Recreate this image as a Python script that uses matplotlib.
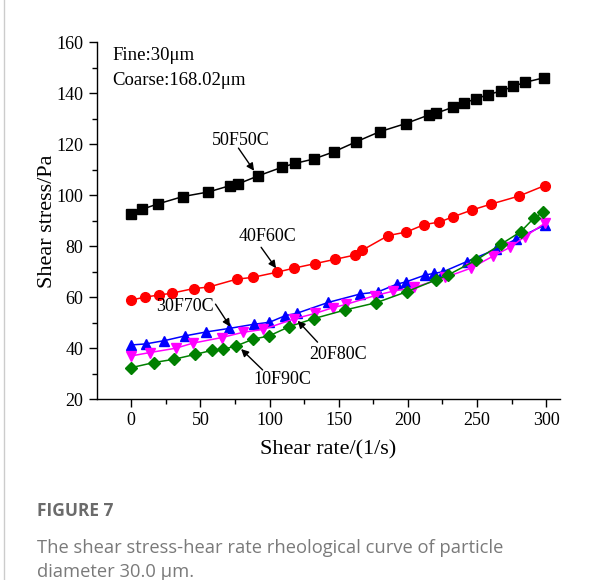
import matplotlib
matplotlib.use("Agg")
import matplotlib.pyplot as plt
from matplotlib.lines import Line2D

# ---------------- DATA ---------------- #

x_50f50c = [0, 7.7, 19.2, 37.3, 55.8, 71.5, 77, 91.7, 109, 118.4, 131.8, 146.3, 162.7,
            179.5, 198.3, 215.2, 220.6, 232.9, 240.9, 249.3, 258, 267.6, 276.2, 284.7, 298.6]
y_50f50c = [92.5, 94.5, 96.6, 99.5, 101.3, 103.8, 104.4, 107.6, 111.0, 112.5, 114.2, 117.0, 121.0,
            124.9, 128.1, 131.5, 132.2, 134.6, 136.3, 137.8, 139.5, 140.9, 142.7, 144.3, 146.1]

x_40f60c = [0, 10.1, 20.4, 29.3, 45, 56, 76.2, 87.8, 105.1, 117.4, 132.9, 147.5, 162, 166.8,
            185.8, 199, 211.8, 222.8, 232.9, 246.2, 259.9, 280.4, 298.9]
y_40f60c = [58.9, 60.1, 60.9, 61.6, 63.4, 64.0, 67.1, 67.8, 69.8, 71.4, 73.2, 74.9, 76.6, 78.4,
            84.2, 85.6, 88.5, 89.5, 91.6, 94.2, 96.5, 99.7, 103.8]

x_30f70c = [0, 10.3, 24, 39.2, 54.2, 71, 88.5, 99.9, 111.4, 119.6, 142.5, 165.6, 178.3,
            192.3, 198.5, 212.4, 219.2, 225.5, 242.6, 264, 278, 299.1]
y_30f70c = [41.3, 41.7, 43.0, 44.9, 46.4, 47.8, 49.4, 50.2, 52.8, 53.7, 58.0, 61.3, 62.1,
            65.2, 66.0, 68.7, 69.4, 70.0, 74.0, 78.9, 82.7, 88.4]

x_20f80c = [0, 13.2, 32, 44.5, 65.4, 81.1, 95.5, 117.7, 133.1, 145.6, 155.2, 175.9, 189.4,
            204.8, 227.1, 245.5, 261.8, 273.9, 284.7, 298.9]
y_20f80c = [37.0, 38.3, 40.0, 42.0, 44.2, 46.3, 47.4, 51.5, 53.7, 55.9, 57.2, 60.6, 62.4,
            63.9, 67.8, 71.4, 76.2, 79.6, 83.8, 89.0]

x_10f90c = [0, 16.3, 31, 46.2, 58.5, 66.4, 75.8, 87.8, 99.9, 114.3, 131.8, 154.5, 177.3,
            199.3, 220.2, 229.3, 249.5, 267.6, 281.6, 291.4, 297.9]
y_10f90c = [32.4, 34.4, 35.7, 37.6, 39.2, 39.6, 40.9, 43.5, 44.9, 48.5, 51.6, 55.0, 57.9,
            62.2, 66.8, 68.8, 74.6, 80.9, 85.7, 91.2, 93.3]

x_ticks = [0, 50, 100, 150, 200, 250, 300]
y_ticks = [20, 40, 60, 80, 100, 120, 140, 160]

# ---------------- FIGURE ---------------- #

plt.rcParams['font.family'] = ['Liberation Serif', 'DejaVu Serif']

fig = plt.figure(figsize=(6.12, 5.80), dpi=100)
ax = fig.add_axes([0.158, 0.3116, 0.757, 0.6155])

ax.plot(x_50f50c, y_50f50c, color='black', lw=1.1, marker='s', ms=6.5)
ax.plot(x_40f60c, y_40f60c, color='#ff0000', lw=1.1, marker='o', ms=7)
ax.plot(x_30f70c, y_30f70c, color='#0000ff', lw=1.1, marker='^', ms=7.5)
ax.plot(x_20f80c, y_20f80c, color='#ff00ff', lw=1.1, marker='v', ms=7.5)
ax.plot(x_10f90c, y_10f90c, color='#008000', lw=1.1, marker='D', ms=6)

ax.set_xlim(-25, 310)
ax.set_ylim(20, 160)
ax.set_xticks(x_ticks)
ax.set_yticks(y_ticks)
ax.set_xticks([25, 75, 125, 175, 225, 275], minor=True)
ax.set_yticks([30, 50, 70, 90, 110, 130, 150], minor=True)
ax.tick_params(which='major', direction='out', length=6, width=1, labelsize=13)
ax.tick_params(which='minor', direction='out', length=3.5, width=1)
for side in ['top', 'right']:
    ax.spines[side].set_visible(False)
for side in ['left', 'bottom']:
    ax.spines[side].set_linewidth(1)

ax.set_xlabel("Shear rate/(1/s)", fontsize=16, labelpad=8)
ax.set_ylabel("Shear stress/Pa", fontsize=16, labelpad=-0.5)

# info text
ax.text(112.3 / 612, 1 - 56 / 580, "Fine:30μm", transform=fig.transFigure,
        fontsize=13.5, va='center', ha='left')
ax.text(112.3 / 612, 1 - 80 / 580, "Coarse:168.02μm", transform=fig.transFigure,
        fontsize=13.5, va='center', ha='left')

# curve labels with arrows
labels = [
    ("50F50C", (78.9, 121.4), (77.5, 118.5), (88.8, 109.6)),
    ("40F60C", (98.4, 83.8), (93.9, 79.6), (104.7, 71.4)),
    ("30F70C", (38.5, 56.3), (60.9, 57.3), (71.5, 48.5)),
    ("20F80C", (149.7, 37.4), (134.7, 42.4), (120.3, 50.8)),
    ("10F90C", (109, 27.6), (95, 31.5), (79.4, 39.7)),
]
for txt, pos, tail, head in labels:
    ax.text(pos[0], pos[1], txt, fontsize=13, ha='center', va='center')
    ax.annotate("", xy=head, xytext=tail,
                arrowprops=dict(arrowstyle='-|>', color='black', lw=1,
                                mutation_scale=11, shrinkA=0, shrinkB=0))

# page border line on the left
fig.add_artist(Line2D([4 / 612, 4 / 612], [0, 1], transform=fig.transFigure,
                      color='#cccccc', lw=1))

# caption
fig.text(37 / 612, 1 - 511 / 580, "FIGURE 7", fontsize=12.5, fontweight='bold',
         color='#6b6b6b', family='Open Sans', va='center', ha='left')
fig.text(37 / 612, 1 - 548 / 580, "The shear stress-hear rate rheological curve of particle",
         fontsize=13.2, color='#7a7a7a', family='Open Sans', va='center', ha='left')
fig.text(37 / 612, 1 - 572 / 580, "diameter 30.0 μm.",
         fontsize=13.2, color='#7a7a7a', family='Open Sans', va='center', ha='left')

fig.savefig("out.png", dpi=100)
